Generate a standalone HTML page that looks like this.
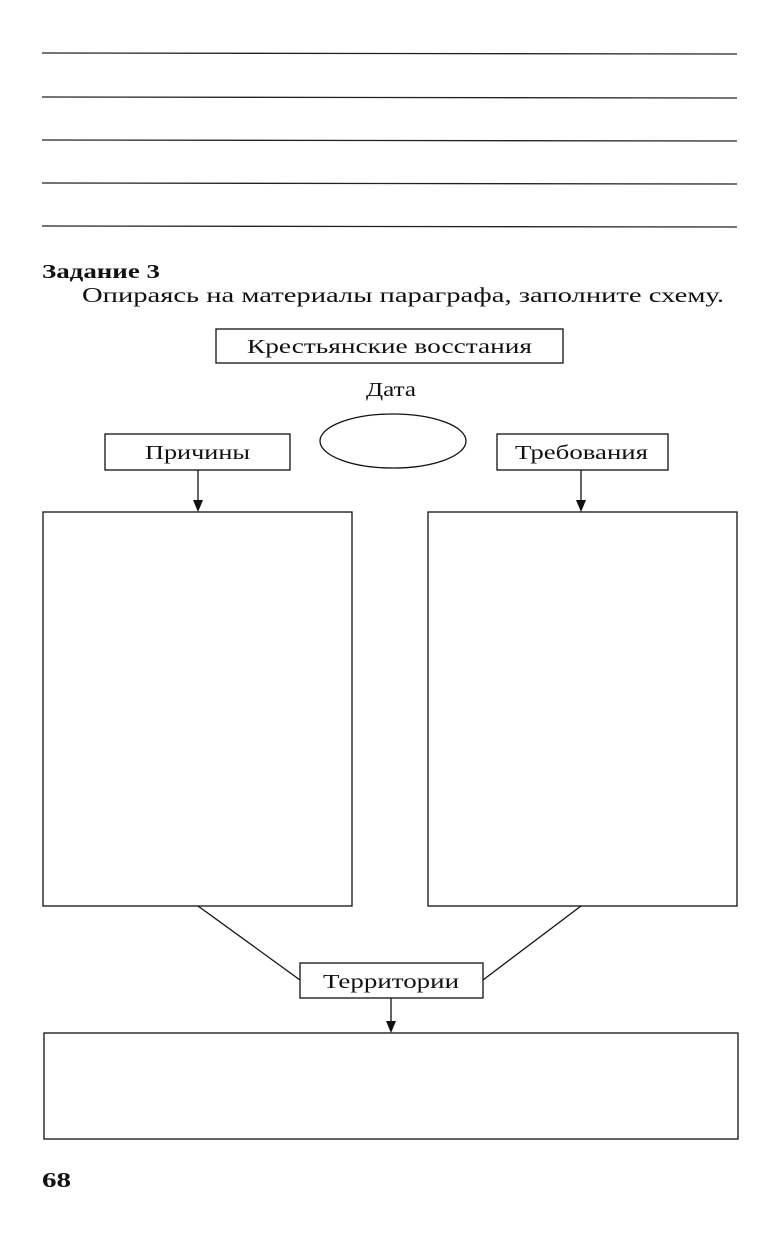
<!DOCTYPE html>
<html><head><meta charset="utf-8"><style>
html,body{margin:0;padding:0;background:#fff;}
svg{display:block}
text{font-family:"Liberation Serif","DejaVu Serif",serif;fill:#111}
</style></head><body>
<svg width="779" height="1252" viewBox="0 0 779 1252" xmlns="http://www.w3.org/2000/svg">
<g stroke="#222" stroke-width="1.3">
<line x1="42" y1="53" x2="737" y2="54"/>
<line x1="42" y1="97" x2="737" y2="98"/>
<line x1="42" y1="140" x2="737" y2="141"/>
<line x1="42" y1="183" x2="737" y2="184"/>
<line x1="42" y1="226" x2="737" y2="227"/>
</g>
<text x="42" y="278" font-size="20" font-weight="bold" textLength="118" lengthAdjust="spacingAndGlyphs">Задание 3</text>
<text x="82" y="302" font-size="21" textLength="642" lengthAdjust="spacingAndGlyphs">Опираясь на материалы параграфа, заполните схему.</text>
<g fill="none" stroke="#111" stroke-width="1.3">
<rect x="216" y="329" width="347" height="34"/>
<ellipse cx="393" cy="441" rx="73" ry="27"/>
<rect x="105" y="434" width="185" height="36"/>
<rect x="497" y="434" width="171" height="36"/>
<rect x="43" y="512" width="309" height="394"/>
<rect x="428" y="512" width="309" height="394"/>
<line x1="198" y1="906" x2="300" y2="980"/>
<line x1="581" y1="906" x2="483" y2="980"/>
<rect x="300" y="963" width="183" height="35"/>
<rect x="44" y="1033" width="694" height="106"/>
<line x1="198" y1="470" x2="198" y2="502"/>
<line x1="581" y1="470" x2="581" y2="502"/>
<line x1="391" y1="998" x2="391" y2="1023"/>
</g>
<g fill="#111">
<path d="M193,500 L203,500 L198,512 Z"/>
<path d="M576,500 L586,500 L581,512 Z"/>
<path d="M386,1021 L396,1021 L391,1033 Z"/>
</g>
<text x="247" y="353" font-size="20" textLength="285" lengthAdjust="spacingAndGlyphs">Крестьянские восстания</text>
<text x="366" y="396" font-size="20" textLength="50" lengthAdjust="spacingAndGlyphs">Дата</text>
<text x="145" y="459" font-size="20" textLength="105" lengthAdjust="spacingAndGlyphs">Причины</text>
<text x="515" y="459" font-size="20" textLength="133" lengthAdjust="spacingAndGlyphs">Требования</text>
<text x="323" y="988" font-size="20" textLength="136" lengthAdjust="spacingAndGlyphs">Территории</text>
<text x="42" y="1187" font-size="21" font-weight="bold" textLength="29" lengthAdjust="spacingAndGlyphs">68</text>
</svg>
</body></html>
